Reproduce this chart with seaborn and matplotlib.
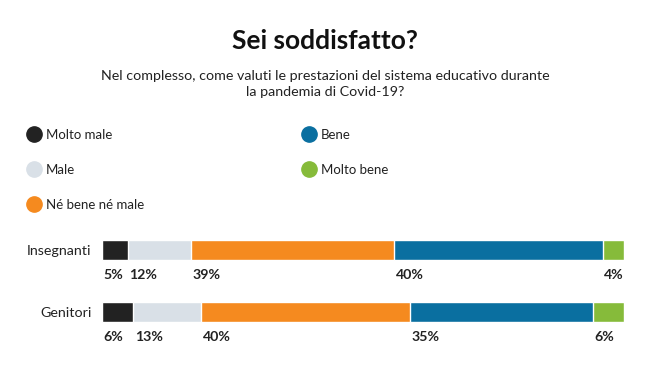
import matplotlib
matplotlib.use("Agg")
import matplotlib.pyplot as plt
from matplotlib.lines import Line2D
import numpy as np
import pandas as pd
import seaborn as sns

# data
groups = ["Insegnanti", "Genitori"]
categories = ["Molto male", "Male", "Né bene né male", "Bene", "Molto bene"]
insegnanti = [5, 12, 39, 40, 4]
genitori = [6, 13, 40, 35, 6]
colors = ["#222222", "#d9e0e7", "#f58a1f", "#0a6fa0", "#86bb3a"]

sns.set_style("white")
plt.rcParams["font.family"] = ["Lato", "DejaVu Sans"]

W, H = 650, 369
fig = plt.figure(figsize=(W / 100, H / 100), dpi=100)
fig.patch.set_facecolor("white")

# axes placed in pixel terms: bars run from x=102 to x=624
ax = fig.add_axes([102 / W, (H - 350) / H, 522 / W, 120 / H])

vals = np.array([insegnanti, genitori])
cum = vals.cumsum(axis=1)
df = pd.DataFrame(cum, columns=categories)
df["gruppo"] = groups

# stacked bars: draw cumulative totals from the largest down
for i in range(len(categories) - 1, -1, -1):
    sns.barplot(data=df, x=categories[i], y="gruppo", color=colors[i],
                orient="h", width=20 / 62, saturation=1, ax=ax)

ax.set_xlim(0, 100)
ax.set_ylim(100 / 62, -20 / 62)
ax.set_xlabel("")
ax.set_ylabel("")
ax.set_xticks([])
sns.despine(ax=ax, left=True, bottom=True)
ax.tick_params(axis="y", length=0, pad=7.5, labelsize=10.3, labelcolor="#222222")

# percentage labels under each segment
for r, row in enumerate(vals):
    starts = np.concatenate([[0], np.cumsum(row)[:-1]])
    for s, v in zip(starts, row):
        ax.text(s + 0.25, r + 25 / 62, f"{v}%", ha="left", va="center",
                fontsize=10.2, fontweight="bold", color="#222222")

# title and subtitle
fig.text(0.5, 1 - 41 / H, "Sei soddisfatto?", ha="center", va="center",
         fontsize=19, fontweight="bold", color="#111111")
fig.text(0.5, 1 - 84 / H,
         "Nel complesso, come valuti le prestazioni del sistema educativo durante\nla pandemia di Covid-19?",
         ha="center", va="center", multialignment="center", fontsize=10.3,
         color="#222222", linespacing=1.3)

# legend
handles = [Line2D([], [], marker="o", linestyle="", markersize=11,
                  markerfacecolor=c, markeredgecolor=c) for c in colors]
fig.legend(handles, categories, loc="upper left",
           bbox_to_anchor=(27 / W, 1 - 128.5 / H), ncol=2, frameon=False,
           fontsize=9.5, handlelength=1.0, handletextpad=0.41,
           labelspacing=1.76, columnspacing=12.0, borderpad=0,
           borderaxespad=0, labelcolor="#222222")

fig.savefig("out.png", dpi=100, facecolor="white")
